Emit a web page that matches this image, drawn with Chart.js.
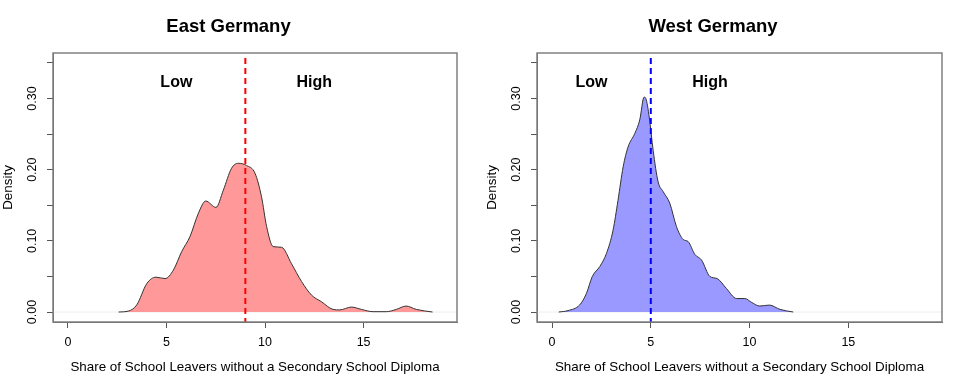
<!DOCTYPE html>
<html>
<head>
<meta charset="utf-8">
<script src="https://cdn.jsdelivr.net/npm/chart.js@4.4.1/dist/chart.umd.min.js"></script>
<style>
  html, body { margin: 0; padding: 0; background: #ffffff; }
  #wrap { position: relative; width: 969px; height: 388px; }
  #c1 { position: absolute; left: 0; top: 0; }
  #c2 { position: absolute; left: 484px; top: 0; }
</style>
</head>
<body>
<div id="wrap">
  <canvas id="c1" width="484" height="388"></canvas>
  <canvas id="c2" width="485" height="388"></canvas>
</div>
<script>
// ---- data ----
const eastTitle = "East Germany";
const westTitle = "West Germany";
const xAxisTitle = "Share of School Leavers without a Secondary School Diploma";
const yAxisTitle = "Density";
const xTickValues = [0, 5, 10, 15];
const yTickValues = [0, 0.05, 0.10, 0.15, 0.20, 0.25, 0.30, 0.35];
const yLabelledTicks = [0, 0.10, 0.20, 0.30];

const eastX = [2.57, 3.07, 3.49, 4.0, 4.47, 4.93, 5.35, 5.77, 6.19, 6.62, 6.99, 7.51, 7.88, 8.30, 8.64, 9.06, 9.49, 9.82, 10.08, 10.41, 10.84, 11.34, 11.85, 12.35, 12.86, 13.45, 13.79, 14.38, 14.89, 15.48, 16.15, 16.66, 17.16, 17.67, 18.5];
const eastY = [0, 0.0014, 0.010, 0.040, 0.049, 0.047, 0.059, 0.085, 0.106, 0.139, 0.156, 0.147, 0.171, 0.202, 0.209, 0.206, 0.195, 0.162, 0.120, 0.092, 0.091, 0.068, 0.043, 0.024, 0.0145, 0.0037, 0.003, 0.007, 0.0037, 0.0005, 0.0005, 0.0037, 0.0084, 0.0037, 0];

const westX = [0.34, 0.81, 1.40, 1.74, 2.04, 2.42, 2.75, 3.09, 3.34, 3.60, 3.85, 4.19, 4.44, 4.66, 4.75, 4.92, 5.12, 5.37, 5.63, 5.96, 6.30, 6.64, 6.89, 7.23, 7.57, 7.99, 8.36, 8.83, 9.34, 9.76, 10.10, 10.52, 11.0, 11.54, 12.21];
const westY = [0, 0.002, 0.010, 0.026, 0.050, 0.064, 0.082, 0.115, 0.157, 0.204, 0.232, 0.251, 0.270, 0.302, 0.300, 0.274, 0.227, 0.183, 0.169, 0.153, 0.120, 0.102, 0.099, 0.081, 0.073, 0.050, 0.047, 0.033, 0.019, 0.019, 0.0136, 0.0084, 0.0098, 0.0037, 0];

const eastCut = 9;
const westCut = 5;
const eastLabelX = [5.5, 12.5];
const westLabelX = [2.0, 8.0];
const labelY = 0.323;
const groupLabels = ["Low", "High"];

// ---- helpers ----
const FONT = "'Liberation Sans', Arial, Helvetica, sans-serif";

function pts(xs, ys) { return xs.map((x, i) => ({ x: x, y: ys[i] })); }

const framePlugin = {
  id: 'frame',
  beforeDatasetsDraw(chart) {
    const { ctx, chartArea: a, scales } = chart;
    const y0 = scales.y.getPixelForValue(0);
    ctx.save();
    ctx.strokeStyle = '#eeeeee';
    ctx.lineWidth = 1;
    ctx.beginPath();
    ctx.moveTo(a.left, y0);
    ctx.lineTo(a.right, y0);
    ctx.stroke();
    ctx.restore();
  },
  afterDatasetsDraw(chart, args, opts) {
    const { ctx, chartArea: a, scales } = chart;
    // cutoff line
    const xc = scales.x.getPixelForValue(opts.cut);
    ctx.save();
    ctx.strokeStyle = opts.cutColor;
    ctx.lineWidth = 2;
    ctx.setLineDash([6, 4]);
    ctx.beginPath();
    ctx.moveTo(xc, a.top + 5);
    ctx.lineTo(xc, a.bottom);
    ctx.stroke();
    ctx.restore();
    // group labels
    ctx.save();
    ctx.fillStyle = '#000';
    ctx.font = "bold 16px " + FONT;
    ctx.textAlign = 'center';
    ctx.textBaseline = 'middle';
    opts.labelX.forEach((lx, i) => {
      ctx.fillText(groupLabels[i], scales.x.getPixelForValue(lx), scales.y.getPixelForValue(labelY));
    });
    ctx.restore();
    // box
    ctx.save();
    ctx.strokeStyle = '#777777';
    ctx.lineWidth = 1.4;
    ctx.strokeRect(a.left, a.top, a.right - a.left, a.bottom - a.top);
    ctx.restore();
  }
};

function makeChart(id, title, xs, ys, fillColor, cut, cutColor, labelX) {
  return new Chart(document.getElementById(id), {
    type: 'scatter',
    data: {
      datasets: [{
        data: pts(xs, ys),
        showLine: true,
        fill: 'origin',
        backgroundColor: fillColor,
        borderColor: '#333333',
        borderWidth: 1,
        pointRadius: 0,
        cubicInterpolationMode: 'monotone'
      }]
    },
    options: {
      responsive: false,
      animation: false,
      events: [],
      layout: { padding: { left: 0, right: 27, top: 0, bottom: 0 } },
      plugins: {
        legend: { display: false },
        tooltip: { enabled: false },
        title: {
          display: true,
          text: title,
          color: '#000',
          font: { family: FONT, size: 18.5, weight: 'bold' },
          padding: { top: 16, bottom: 14.8 }
        },
        frame: { cut: cut, cutColor: cutColor, labelX: labelX }
      },
      scales: {
        x: {
          type: 'linear',
          min: -0.76,
          max: 19.74,
          afterBuildTicks: (s) => { s.ticks = xTickValues.map(v => ({ value: v })); },
          afterFit: (s) => { s.height = 66; },
          grid: { drawOnChartArea: false, tickLength: 6, color: '#555555', tickColor: '#555555' },
          border: { display: true, color: '#777777' },
          ticks: {
            color: '#000',
            font: { family: FONT, size: 12.5 },
            padding: 7,
            maxRotation: 0,
            callback: (v) => String(v)
          },
          title: {
            display: true,
            text: xAxisTitle,
            color: '#000',
            font: { family: FONT, size: 13.4 },
            padding: { top: 0, bottom: 13 }
          }
        },
        y: {
          type: 'linear',
          min: -0.014,
          max: 0.364,
          afterBuildTicks: (s) => { s.ticks = yTickValues.map(v => ({ value: v })); },
          afterFit: (s) => { s.width = 53; },
          grid: { drawOnChartArea: false, tickLength: 6, color: '#555555', tickColor: '#555555' },
          border: { display: true, color: '#777777' },
          ticks: {
            color: '#000',
            font: { family: FONT, size: 12.5 },
            padding: 2,
            minRotation: 90,
            maxRotation: 90,
            crossAlign: 'center',
            callback: (v) => yLabelledTicks.some(t => Math.abs(t - v) < 1e-9) ? v.toFixed(2) : ''
          },
          title: {
            display: true,
            text: yAxisTitle,
            color: '#000',
            font: { family: FONT, size: 13.4 },
            padding: { top: 0, bottom: 0 }
          }
        }
      }
    },
    plugins: [framePlugin]
  });
}

makeChart('c1', eastTitle, eastX, eastY, 'rgba(255,153,153,1)', eastCut, '#ff0000', eastLabelX);
makeChart('c2', westTitle, westX, westY, 'rgba(153,153,255,1)', westCut, '#0000ff', westLabelX);
</script>
</body>
</html>
